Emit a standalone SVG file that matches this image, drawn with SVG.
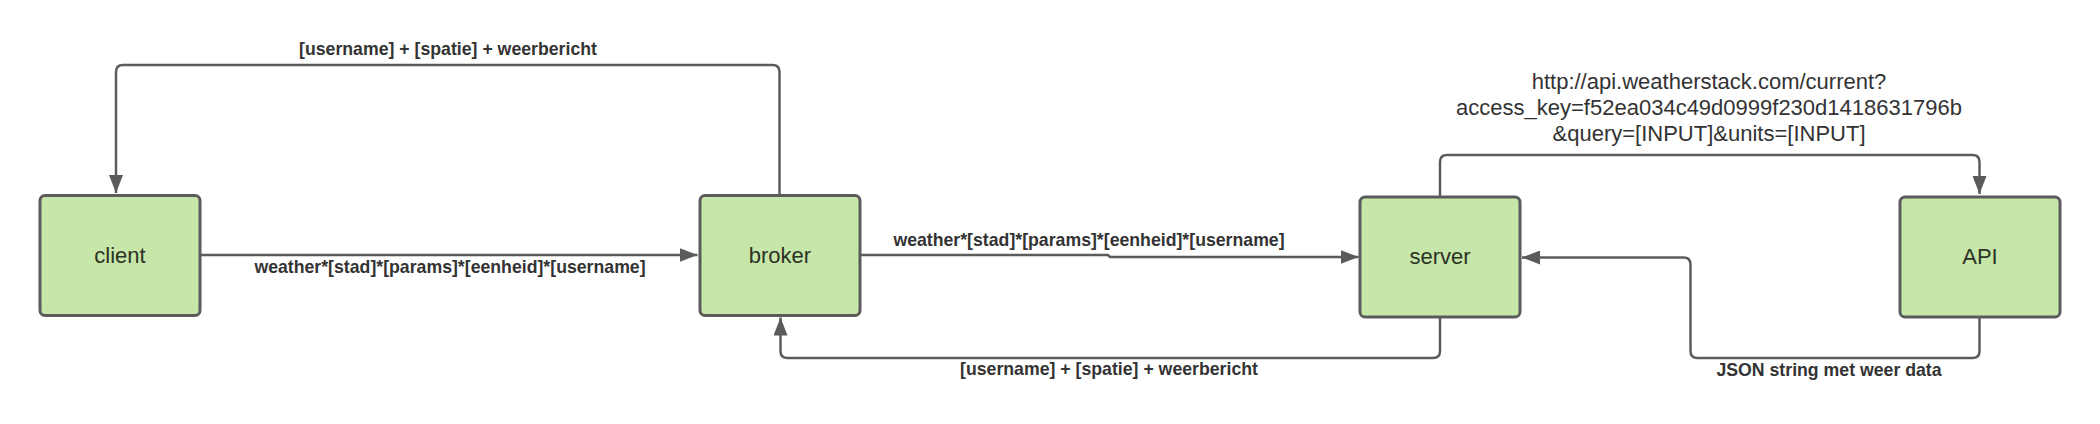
<svg xmlns="http://www.w3.org/2000/svg" width="2100" height="424" viewBox="0 0 2100 424">
<style>
.box{fill:#c7e6a9;stroke:#5b5b5b;stroke-width:3}
.nl{font-family:"Liberation Sans",Arial,sans-serif;font-size:22px;fill:#2b3324;text-anchor:middle}
.conn{fill:none;stroke:#5b5b5b;stroke-width:2.5}
.lbl{font-family:"Liberation Sans",Arial,sans-serif;font-size:17.7px;font-weight:bold;fill:#333;text-anchor:middle}
.url{font-family:"Liberation Sans",Arial,sans-serif;font-size:22px;fill:#333;text-anchor:middle}
</style>
<defs>
<marker id="arr" markerUnits="userSpaceOnUse" markerWidth="18" markerHeight="14" refX="18" refY="7" orient="auto">
<path d="M0,0 L18,7 L0,14 z" fill="#5b5b5b"/>
</marker>
</defs>
<rect width="2100" height="424" fill="#ffffff"/>
<g id="connectors">
<path class="conn" d="M779.5,194 V72 Q779.5,65 772.5,65 H123 Q116,65 116,72 V193" marker-end="url(#arr)"/>
<path class="conn" d="M200,255 H697.5" marker-end="url(#arr)"/>
<path class="conn" d="M860,255 H1108 L1110,257 H1358.5" marker-end="url(#arr)"/>
<path class="conn" d="M1440,318 V351 Q1440,358 1433,358 H787.5 Q780.5,358 780.5,351 V317.5" marker-end="url(#arr)"/>
<path class="conn" d="M1440,196 V162 Q1440,155 1447,155 H1972.5 Q1979.5,155 1979.5,162 V194" marker-end="url(#arr)"/>
<path class="conn" d="M1979.5,318 V351 Q1979.5,358 1972.5,358 H1697.5 Q1690.5,358 1690.5,351 V264.5 Q1690.5,257.5 1683.5,257.5 H1522" marker-end="url(#arr)"/>
<text class="lbl" x="448" y="55">[username] + [spatie] + weerbericht</text>
<text class="lbl" x="450" y="273">weather*[stad]*[params]*[eenheid]*[username]</text>
<text class="lbl" x="1089" y="246">weather*[stad]*[params]*[eenheid]*[username]</text>
<text class="lbl" x="1109" y="375">[username] + [spatie] + weerbericht</text>
<text class="lbl" x="1829" y="376">JSON string met weer data</text>
<text class="url" x="1709" y="89">http://api.weatherstack.com/current?</text>
<text class="url" x="1709" y="115">access_key=f52ea034c49d0999f230d1418631796b</text>
<text class="url" x="1709" y="141">&amp;query=[INPUT]&amp;units=[INPUT]</text>
</g>
<g id="client">
<rect class="box" x="40" y="195.5" width="160" height="120" rx="5"/>
<text class="nl" x="120" y="262.5">client</text>
</g>
<g id="broker">
<rect class="box" x="700" y="195.5" width="160" height="120" rx="5"/>
<text class="nl" x="780" y="262.5">broker</text>
</g>
<g id="server">
<rect class="box" x="1360" y="197" width="160" height="120" rx="5"/>
<text class="nl" x="1440" y="264">server</text>
</g>
<g id="API">
<rect class="box" x="1900" y="197" width="160" height="120" rx="5"/>
<text class="nl" x="1980" y="264">API</text>
</g>
</svg>
